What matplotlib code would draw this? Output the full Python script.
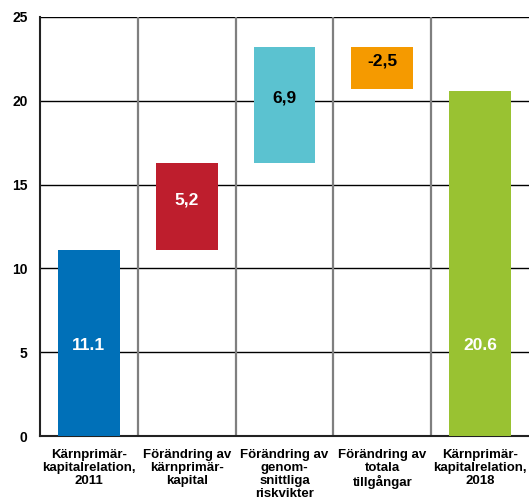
import matplotlib
matplotlib.use("Agg")
import matplotlib.pyplot as plt
import numpy as np

plt.rcParams['font.family'] = ['Liberation Sans', 'DejaVu Sans']
plt.rcParams['font.weight'] = 'bold'

categories = [
    "Kärnprimär-\nkapitalrelation,\n2011",
    "Förändring av\nkärnprimär-\nkapital",
    "Förändring av\ngenom-\nsnittliga\nriskvikter",
    "Förändring av\ntotala\ntillgångar",
    "Kärnprimär-\nkapitalrelation,\n2018",
]
start_value = 11.1
changes = [5.2, 6.9, -2.5]
end_value = 20.6
label_texts = ["11.1", "5,2", "6,9", "-2,5", "20.6"]
bar_colors = ["#0070B8", "#BE1E2D", "#5BC2D0", "#F59A00", "#99C232"]
label_colors = ["white", "white", "black", "black", "white"]
y_ticks = [0, 5, 10, 15, 20, 25]

# Waterfall: floating bars for the changes, full bars for the totals
bottoms = [0.0]
heights = [start_value]
level = start_value
for c in changes:
    bottoms.append(min(level, level + c))
    heights.append(abs(c))
    level += c
bottoms.append(0.0)
heights.append(end_value)

fig = plt.figure(figsize=(5.29, 5.04), dpi=100)
ax = fig.add_axes([0.0756, 0.1349, 0.9244, 0.8314])

x = np.arange(len(categories))
ax.bar(x, heights, bottom=bottoms, width=0.63, color=bar_colors, zorder=3)

for i, (b, h) in enumerate(zip(bottoms, heights)):
    if i in (0, len(categories) - 1):
        y = 5.4
    else:
        y = b + h / 2 + 0.4
    ax.text(x[i], y, label_texts[i], ha='center', va='center',
            fontsize=12.5, fontweight='bold', color=label_colors[i], zorder=4)

ax.set_xlim(-0.5, len(categories) - 0.5)
ax.set_ylim(0, 25)
ax.set_yticks(y_ticks)
ax.set_yticklabels([str(t) for t in y_ticks], fontsize=10, fontweight='bold')
ax.set_xticks(x)
ax.set_xticklabels(categories, fontsize=9.5, fontweight='bold', linespacing=1.12)
ax.tick_params(axis='y', length=0, pad=9)
ax.tick_params(axis='x', length=0, pad=9)

# horizontal grid and category separators
for t in y_ticks[1:]:
    ax.axhline(t, color='black', linewidth=1.0, zorder=1)
for b in np.arange(0.5, len(categories) - 0.5, 1.0):
    ax.axvline(b, color='#7f7f7f', linewidth=1.6, zorder=1)

for s in ['top', 'right']:
    ax.spines[s].set_visible(False)
ax.spines['left'].set_linewidth(1.5)
ax.spines['bottom'].set_linewidth(1.5)
ax.spines['left'].set_color('#222222')
ax.spines['bottom'].set_color('#222222')

fig.savefig("out.png", dpi=100)
